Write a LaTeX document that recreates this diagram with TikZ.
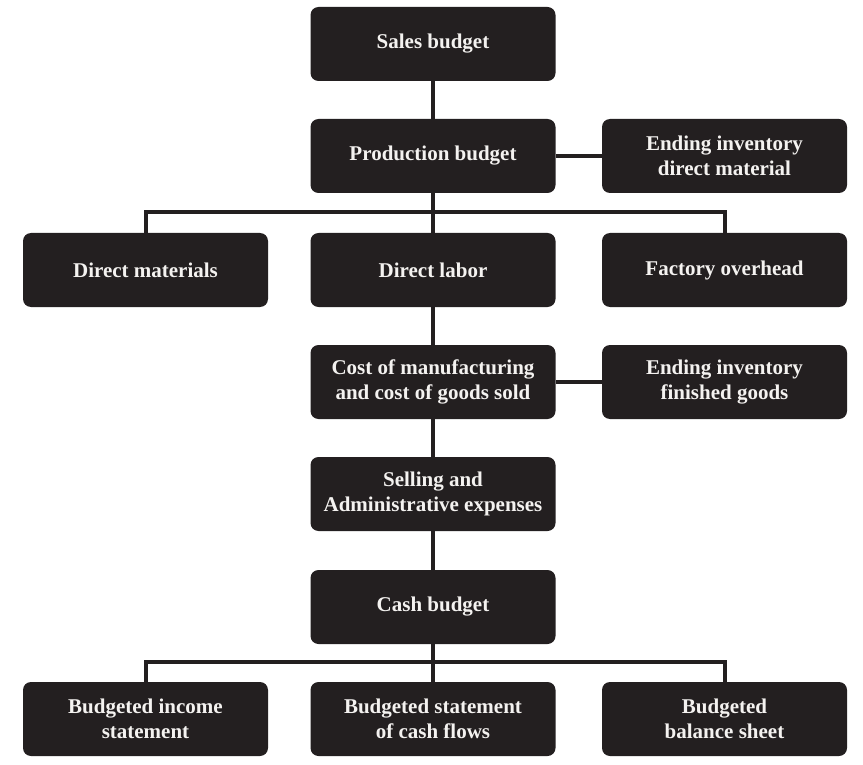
\documentclass[tikz,border=0pt]{standalone}
\usepackage{fontspec}
\setmainfont{Liberation Serif}
\definecolor{boxc}{HTML}{231F20}
\definecolor{txtc}{HTML}{F4F2F0}
\tikzset{
  budgetbox/.style={rectangle, rounded corners=8pt, fill=boxc, draw=none,
    minimum width=245pt, minimum height=74pt, inner sep=0pt,
    text=txtc, align=center,
    font=\fontsize{21}{24.5}\selectfont\bfseries},
  conn/.style={draw=boxc, line width=4pt, line join=miter}
}
\begin{document}
\begin{tikzpicture}[x=1pt, y=-1pt]
\useasboundingbox (0,0) rectangle (863,765);
% columns: 145.5, 433, 724.5 ; rows: 44,156,270,382,494,607,719
\node[budgetbox] (sales) at (433,44) {Sales budget};
\node[budgetbox] (prod) at (433,156) {Production budget};
\node[budgetbox] (endm) at (724.5,156) {Ending inventory\\direct material};
\node[budgetbox] (dmat) at (145.5,270) {Direct materials};
\node[budgetbox] (dlab) at (433,270) {Direct labor};
\node[budgetbox] (fover) at (724.5,270) {Factory overhead};
\node[budgetbox] (cost) at (433,382) {Cost of manufacturing\\and cost of goods sold};
\node[budgetbox] (endf) at (724.5,382) {Ending inventory\\finished goods};
\node[budgetbox] (sell) at (433,494) {Selling and\\Administrative expenses};
\node[budgetbox] (cash) at (433,607) {Cash budget};
\node[budgetbox] (binc) at (145.5,719) {Budgeted income\\statement};
\node[budgetbox] (bcf) at (433,719) {Budgeted statement\\of cash flows};
\node[budgetbox] (bbal) at (724.5,719) {Budgeted\\balance sheet};
\coordinate (bus1) at (433,212);
\coordinate (bus2) at (433,662);
\draw[conn] (sales.south) -- (prod.north);
\draw[conn] (prod.east) -- (endm.west);
\draw[conn] (prod.south) -- (dlab.north);
\draw[conn] (dmat.north) |- (bus1) -| (fover.north);
\draw[conn] (dlab.south) -- (cost.north);
\draw[conn] (cost.east) -- (endf.west);
\draw[conn] (cost.south) -- (sell.north);
\draw[conn] (sell.south) -- (cash.north);
\draw[conn] (cash.south) -- (bcf.north);
\draw[conn] (binc.north) |- (bus2) -| (bbal.north);
\end{tikzpicture}
\end{document}
